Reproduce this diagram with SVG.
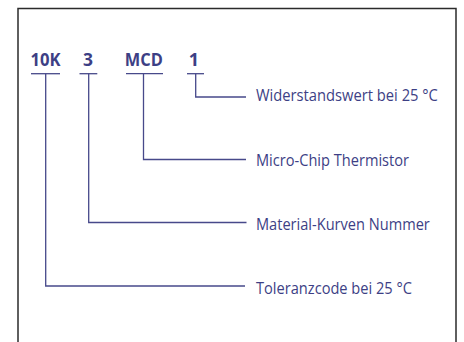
<svg xmlns="http://www.w3.org/2000/svg" width="464" height="342" viewBox="0 0 464 342">
<style>
.frame{fill:none;stroke:#2b2b2b;stroke-width:1.5}
.code{font-family:"Open Sans","Noto Sans",sans-serif;font-weight:700;font-size:18px;fill:#3d3f85;text-anchor:middle}
.lbl{font-family:"Open Sans","Noto Sans",sans-serif;font-size:17px;fill:#3d3f85}
.ul,.conn{fill:none;stroke:#47498a;stroke-width:1.3}
</style>
<rect width="464" height="342" fill="#fff"/>
<path class="frame" d="M18,342 V8.5 H456 V342"/>
<g id="code-10K">
<text class="code" x="45.5" y="66" textLength="30" lengthAdjust="spacingAndGlyphs">10K</text>
<line class="ul" x1="31" y1="73.7" x2="60" y2="73.7"/>
</g>
<g id="code-3">
<text class="code" x="88" y="66" textLength="10" lengthAdjust="spacingAndGlyphs">3</text>
<line class="ul" x1="79.5" y1="73.7" x2="97.3" y2="73.7"/>
</g>
<g id="code-MCD">
<text class="code" x="143.8" y="66" textLength="38" lengthAdjust="spacingAndGlyphs">MCD</text>
<line class="ul" x1="126" y1="73.7" x2="163" y2="73.7"/>
</g>
<g id="code-1">
<text class="code" x="194" y="66">1</text>
<line class="ul" x1="187" y1="73.7" x2="204" y2="73.7"/>
</g>
<g id="label-widerstand" transform="translate(256,101) scale(0.85,1)">
<text class="lbl" x="0" y="0" textLength="214" lengthAdjust="spacingAndGlyphs">Widerstandswert bei 25 °C</text>
</g>
<g id="label-microchip" transform="translate(256,166) scale(0.85,1)">
<text class="lbl" x="0" y="0" textLength="180" lengthAdjust="spacingAndGlyphs">Micro-Chip Thermistor</text>
</g>
<g id="label-material" transform="translate(256,229.5) scale(0.85,1)">
<text class="lbl" x="0" y="0" textLength="204.5" lengthAdjust="spacingAndGlyphs">Material-Kurven Nummer</text>
</g>
<g id="label-toleranz" transform="translate(256,293.5) scale(0.85,1)">
<text class="lbl" x="0" y="0" textLength="183.5" lengthAdjust="spacingAndGlyphs">Toleranzcode bei 25 °C</text>
</g>
<g id="connectors">
<polyline class="conn" points="195.7,73.7 195.7,97 246,97"/>
<polyline class="conn" points="143.5,73.7 143.5,159.5 246,159.5"/>
<polyline class="conn" points="88.7,73.7 88.7,222.5 246.5,222.5"/>
<polyline class="conn" points="45.7,73.7 45.7,286 245,286"/>
</g>
</svg>
